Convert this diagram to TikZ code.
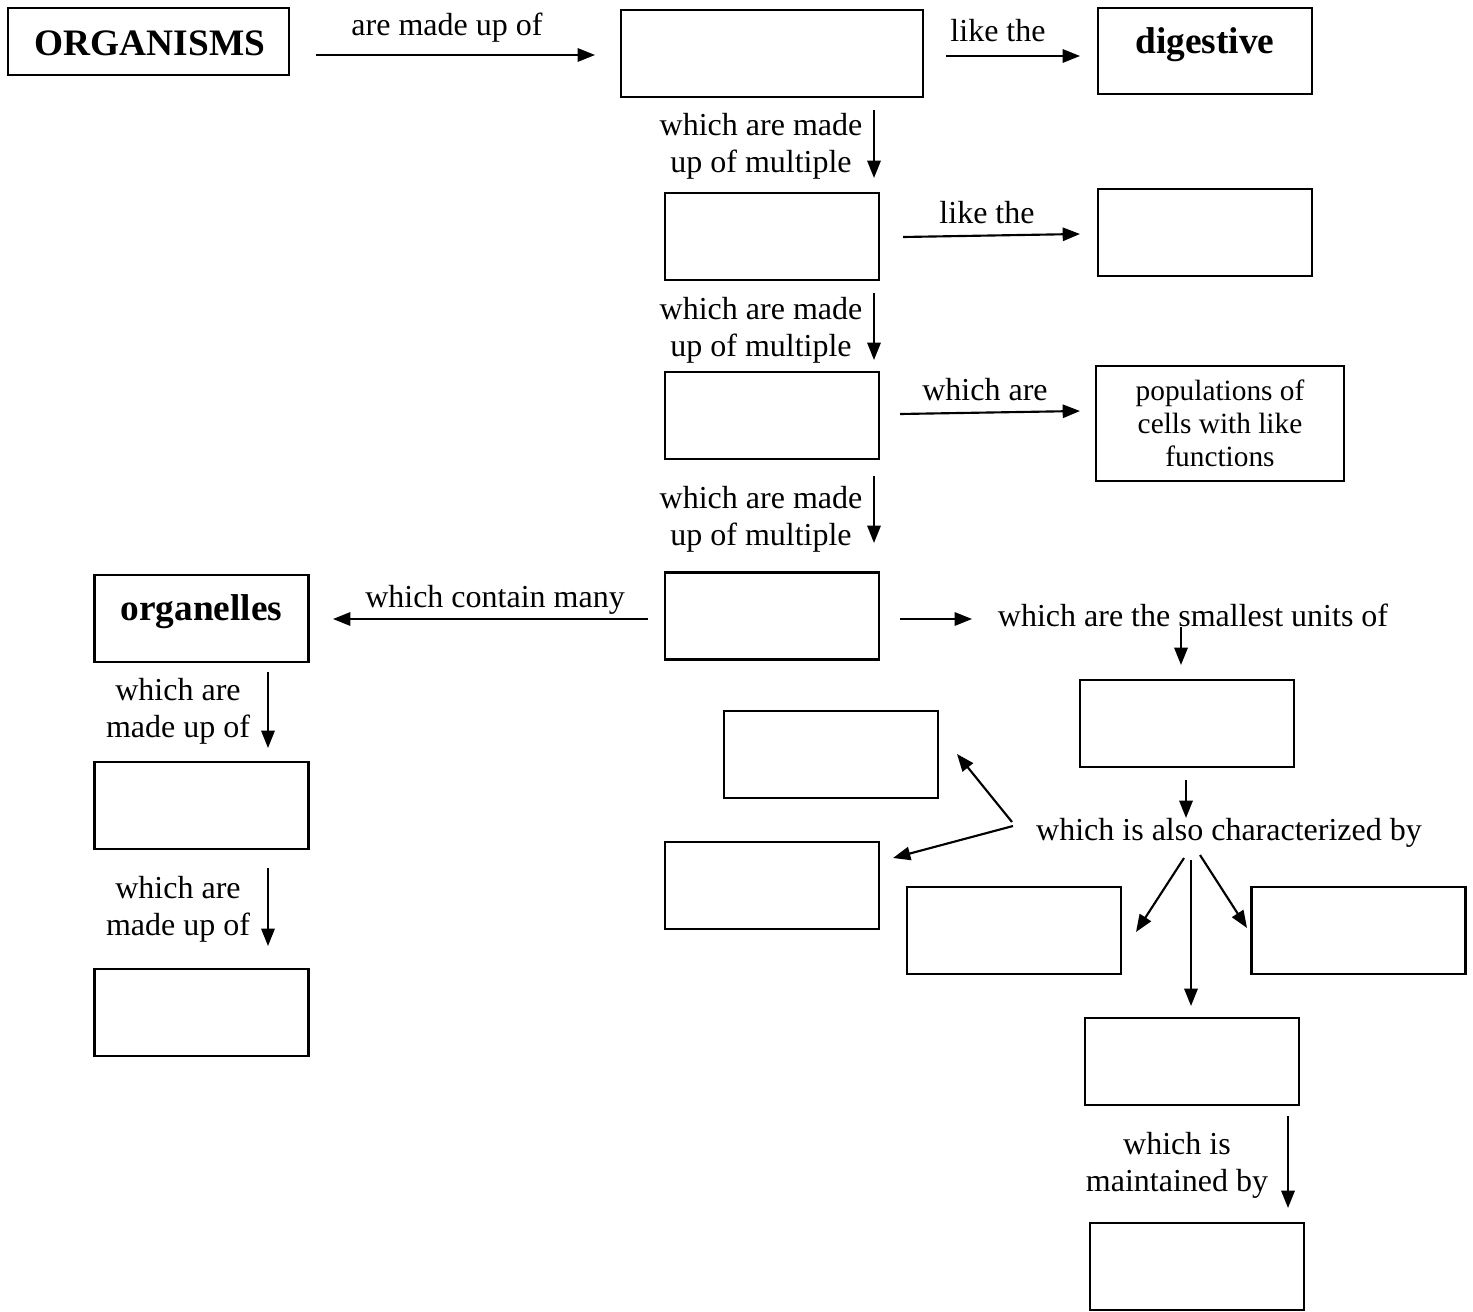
\documentclass[tikz,border=0pt]{standalone}
\usepackage{fontspec}
\setmainfont{Liberation Serif}
\usetikzlibrary{arrows.meta}
\begin{document}
\begin{tikzpicture}[x=0.375pt,y=-0.375pt,
  box/.style={draw, line width=0.8pt, inner sep=0pt, outer sep=0pt,
    minimum width=80.25pt, minimum height=32.6pt,
    font=\fontsize{12}{13.8}\selectfont},
  lbl/.style={inner sep=0pt, align=center, font=\fontsize{12}{13.8}\selectfont},
  boldtxt/.style={inner sep=0pt, font=\fontsize{14}{16}\selectfont\bfseries},
  arr/.style={line width=0.8pt, -{Triangle[length=6.5pt,width=5pt]}}]
\useasboundingbox (0,0) rectangle (1473,1312);

% boxes
\node[box, minimum width=105.4pt, minimum height=25.1pt] (org) at (148.5,41.5) {};
\node[boldtxt] (orgt) at (150,43) {ORGANISMS};
\node[box, minimum width=113.25pt] (b1) at (772,53.5) {};
\node[box, minimum height=32.25pt] (dig) at (1205,51) {};
\node[boldtxt] (digt) at (1205,45) {digestive};
\node[box] (b2) at (772,236.5) {};
\node[box] (b3) at (1205,232.5) {};
\node[box] (b4) at (772,415.5) {};
\node[box, minimum width=93pt, minimum height=43.1pt, align=center,
  font=\fontsize{11}{12.4}\selectfont] (pop) at (1220,423.5) {populations of\\cells with like\\functions};
\node[box] (b5) at (772,616) {};
\node[box] (orgl) at (201.5,618.5) {};
\node[boldtxt] (orglt) at (201.5,612) {organelles};
\node[box] (b6) at (201.5,805.5) {};
\node[box] (b7) at (201.5,1012.5) {};
\node[box] (b8) at (1187,723.5) {};
\node[box] (b9) at (831,754.5) {};
\node[box] (b10) at (772,885.5) {};
\node[box] (b11) at (1014,930.5) {};
\node[box] (b12) at (1358.5,930.5) {};
\node[box] (b13) at (1192,1061.5) {};
\node[box] (b14) at (1197,1266.5) {};

% labels
\node[lbl] (l1) at (447,28) {are made up of};
\node[lbl] (l2) at (998,31) {like the};
\node[lbl] (l3) at (761,146) {which are made\\up of multiple};
\node[lbl] (l4) at (987,213) {like the};
\node[lbl] (l5) at (761,330) {which are made\\up of multiple};
\node[lbl] (l6) at (985,390) {which are};
\node[lbl] (l7) at (761,519) {which are made\\up of multiple};
\node[lbl] (l8) at (495,600) {which contain many};
\node[lbl] (l9) at (1193,615) {which are the smallest units of};
\node[lbl] (l10) at (1229,833) {which is also characterized by};
\node[lbl] (l11) at (1177,1165) {which is\\maintained by};
\node[lbl] (l12) at (178,711) {which are\\made up of};
\node[lbl] (l13) at (178,909) {which are\\made up of};

% connector end points
\coordinate (a1s) at (316,55);   \coordinate (a1e) at (595,55);
\coordinate (a2s) at (946,56);   \coordinate (a2e) at (1080,56);
\coordinate (a3s) at (874,110);  \coordinate (a3e) at (874,178);
\coordinate (a4s) at (903,237);  \coordinate (a4e) at (1080,234);
\coordinate (a5s) at (874,293);  \coordinate (a5e) at (874,360);
\coordinate (a6s) at (900,414);  \coordinate (a6e) at (1080,411);
\coordinate (a7s) at (874,476);  \coordinate (a7e) at (874,543);
\coordinate (a8s) at (648,619);  \coordinate (a8e) at (333,619);
\coordinate (a9s) at (900,619);  \coordinate (a9e) at (972,619);
\coordinate (a10s) at (1181,627); \coordinate (a10e) at (1181,665);
\coordinate (a11s) at (1186,780); \coordinate (a11e) at (1186,818);
\coordinate (a12s) at (1012,822); \coordinate (a12e) at (957,754);
\coordinate (a13s) at (1013,826); \coordinate (a13e) at (893,858);
\coordinate (a14s) at (1184,858); \coordinate (a14e) at (1136,932);
\coordinate (a15s) at (1200,855); \coordinate (a15e) at (1247,928);
\coordinate (a16s) at (1191,860); \coordinate (a16e) at (1191,1006);
\coordinate (a17s) at (1288,1116); \coordinate (a17e) at (1288,1208);
\coordinate (a18s) at (268,672);  \coordinate (a18e) at (268,748);
\coordinate (a19s) at (268,868);  \coordinate (a19e) at (268,946);

% connectors
\foreach \i in {1,...,19} {\draw[arr] (a\i s) -- (a\i e);}
\end{tikzpicture}
\end{document}
